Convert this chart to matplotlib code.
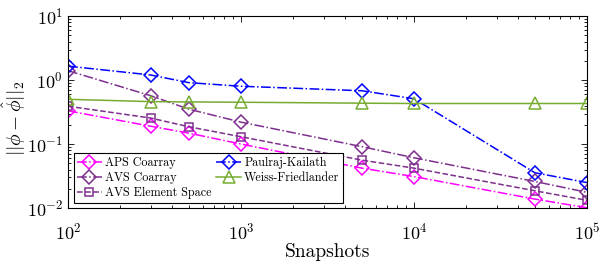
import matplotlib
matplotlib.use("Agg")
import matplotlib.pyplot as plt
from matplotlib.ticker import LogLocator, NullFormatter

plt.rcParams['font.family'] = 'serif'
plt.rcParams['font.serif'] = ['cmr10', 'DejaVu Serif']
plt.rcParams['mathtext.fontset'] = 'cm'
plt.rcParams['axes.formatter.use_mathtext'] = True

# snapshots on the x axis
snapshots = [100, 300, 500, 1000, 5000, 10000, 50000, 100000]

# error per method
aps_coarray = [0.33, 0.19, 0.148, 0.10, 0.042, 0.031, 0.0138, 0.0101]
avs_coarray = [1.4, 0.57, 0.35, 0.22, 0.091, 0.061, 0.026, 0.0176]
avs_element = [0.39, 0.255, 0.186, 0.13, 0.056, 0.042, 0.0186, 0.0132]
paulraj = [1.65, 1.2, 0.91, 0.80, 0.68, 0.51, 0.0356, 0.025]
weiss = [0.50, 0.46, 0.455, 0.45, 0.435, 0.43, 0.43, 0.43]

magenta = (1.0, 0.0, 1.0)
purple = (0.494, 0.184, 0.557)
blue = (0.0, 0.0, 1.0)
green = (0.467, 0.675, 0.188)

fig = plt.figure(figsize=(6.02, 2.63), dpi=100)
ax = fig.add_axes([0.113, 0.209, 0.862, 0.730])

lw = 1.1
ax.plot(snapshots, aps_coarray, '-.', color=magenta, marker='D', ms=7, mfc='none', mew=lw, lw=lw, label='APS Coarray')
ax.plot(snapshots, avs_coarray, '-.', color=purple, marker='D', ms=7, mfc='none', mew=lw, lw=lw, label='AVS Coarray')
ax.plot(snapshots, avs_element, '--', color=purple, marker='s', ms=6, mfc='none', mew=lw, lw=lw, label='AVS Element Space')
ax.plot(snapshots, paulraj, '-.', color=blue, marker='D', ms=7, mfc='none', mew=lw, lw=lw, label='Paulraj-Kailath')
ax.plot(snapshots, weiss, '-', color=green, marker='^', ms=8, mfc='none', mew=lw, lw=lw, label='Weiss-Friedlander')

ax.set_xscale('log')
ax.set_yscale('log')
ax.set_xlim(100, 1e5)
ax.set_ylim(1e-2, 10)
for axis in (ax.xaxis, ax.yaxis):
    axis.set_minor_locator(LogLocator(base=10, subs=range(2, 10), numticks=20))
    axis.set_minor_formatter(NullFormatter())
ax.tick_params(which='both', direction='in', top=True, right=True, labelsize=13, width=0.6)
ax.tick_params(which='major', length=4)
ax.tick_params(which='minor', length=2)
ax.tick_params(axis='x', which='major', pad=10)
for s in ax.spines.values():
    s.set_linewidth(0.8)
ax.set_xlabel('Snapshots', fontsize=14, labelpad=0)
ax.set_ylabel(r'$||\phi - \hat{\phi}||_2$', fontsize=14)
ax.yaxis.set_label_coords(-0.077, 0.47)

leg = ax.legend(loc='lower left', bbox_to_anchor=(0.011, 0.026), ncol=2, fontsize=8.7,
                fancybox=False, edgecolor='black', framealpha=1,
                handlelength=2.0, borderpad=0.3, labelspacing=0.25, columnspacing=0.4,
                handletextpad=0.3, borderaxespad=0)
leg.get_frame().set_linewidth(0.8)

fig.savefig('out.png', dpi=100)
